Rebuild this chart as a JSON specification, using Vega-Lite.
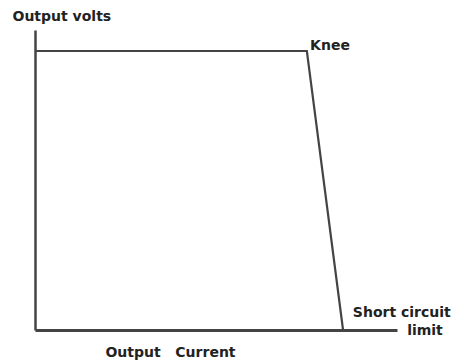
{
  "$schema": "https://vega.github.io/schema/vega-lite/v6.json",
  "width": 362,
  "height": 300,
  "autosize": {"type": "none"},
  "padding": {"left": 35, "top": 30, "right": 69, "bottom": 31},
  "background": "white",
  "config": {"view": {"stroke": null}},
  "layer": [
    {
      "data": {"values": [
        {"current": 0, "volts": 93, "order": 1},
        {"current": 75.1, "volts": 93, "order": 2},
        {"current": 85.1, "volts": 0, "order": 3}
      ]},
      "mark": {"type": "line", "color": "#444444", "strokeWidth": 2.2},
      "encoding": {
        "x": {"field": "current", "type": "quantitative", "scale": {"domain": [0, 100]},
          "axis": {"title": "Output\u00a0\u00a0\u00a0Current", "ticks": false, "labels": false, "grid": false,
            "domainColor": "#444444", "domainWidth": 3,
            "titleFont": "DejaVu Sans", "titleFontWeight": "bold", "titleFontSize": 14, "titleColor": "#222222",
            "titleX": 135, "titleY": 22, "titleAlign": "center", "titleBaseline": "middle"}},
        "y": {"field": "volts", "type": "quantitative", "scale": {"domain": [0, 100]},
          "axis": {"title": "Output volts", "ticks": false, "labels": false, "grid": false,
            "domainColor": "#444444", "domainWidth": 2.5,
            "titleFont": "DejaVu Sans", "titleFontWeight": "bold", "titleFontSize": 14, "titleColor": "#222222",
            "titleAngle": 0, "titleX": -23, "titleY": -14, "titleAlign": "left", "titleBaseline": "middle"}},
        "order": {"field": "order"}
      }
    },
    {
      "data": {"values": [
        {"current": 76.0, "volts": 94.7, "label": "Knee"},
        {"current": 87.8, "volts": 5.7, "label": "Short circuit"},
        {"current": 102.8, "volts": -0.3, "label": "limit"}
      ]},
      "mark": {"type": "text", "align": "left", "baseline": "middle", "font": "DejaVu Sans", "fontWeight": "bold", "fontSize": 14, "color": "#222222", "clip": false},
      "encoding": {
        "x": {"field": "current", "type": "quantitative"},
        "y": {"field": "volts", "type": "quantitative"},
        "text": {"field": "label"}
      }
    }
  ]
}
